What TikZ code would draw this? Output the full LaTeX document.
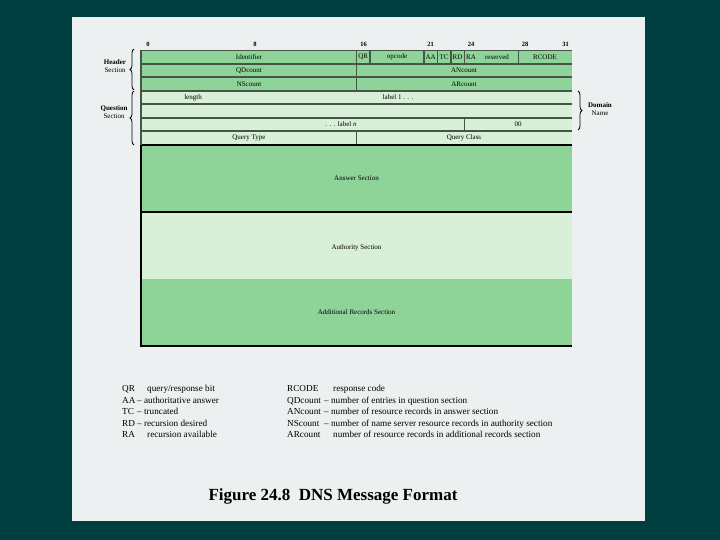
\documentclass[tikz,border=0pt]{standalone}
\usepackage{fontspec}
\setmainfont{Liberation Serif}
\usetikzlibrary{decorations.pathreplacing}
\definecolor{teal0}{RGB}{0,63,63}
\definecolor{panel}{RGB}{237,240,240}
\definecolor{gdark}{RGB}{142,212,152}
\definecolor{glight}{RGB}{216,239,216}
\definecolor{sepc}{RGB}{70,85,72}
\tikzset{
  cell/.style={font=\fontsize{7}{8}\selectfont, inner sep=0pt, anchor=center},
  bitno/.style={font=\bfseries\fontsize{6.5}{7}\selectfont, inner sep=0pt},
  sep/.style={draw=sepc, line width=1.4pt},
  bord/.style={draw=black, line width=1.2pt},
  secl/.style={font=\fontsize{7}{8}\selectfont, inner sep=0pt, align=center},
  leg/.style={font=\fontsize{9.2}{10}\selectfont, inner sep=0pt, anchor=base west},
  bracestyle/.style={decorate, decoration={brace, amplitude=4pt}, line width=0.8pt},
}
\begin{document}
\begin{tikzpicture}[x=1pt,y=-1pt]
\useasboundingbox (0,0) rectangle (720,540);
\fill[teal0] (0,0) rectangle (720,540);
\fill[panel] (72,17) rectangle (645,521);
% row fills
\fill[gdark] (141,50) rectangle (572,91);
\fill[glight] (141,91) rectangle (572,145);
\fill[gdark] (141,145) rectangle (572,212);
\fill[glight] (141,212) rectangle (572,279);
\fill[gdark] (141,279) rectangle (572,346);
% separators
\draw[draw=sepc, line width=0.8pt] (141,50) -- (572,50);
\foreach \yy in {64,77,91,104,118,131} \draw[sep] (141,\yy) -- (572,\yy);
\foreach \xx in {356.5,370,424,437.4,450.8,464.3,518.2} \draw[sep] (\xx,50) -- (\xx,64);
\draw[sep] (356.5,64) -- (356.5,91);
\draw[sep] (464.3,118) -- (464.3,131);
\draw[sep] (356.5,131) -- (356.5,145);
\draw[bord] (572,145) -- (141,145) -- (141,346) -- (572,346);
\draw[bord] (141,212) -- (572,212);
\draw[sep] (141,50) -- (141,145);
% bit numbers
\node[bitno] (b0) at (148,44) {0};
\node[bitno] (b8) at (255,44) {8};
\node[bitno] (b16) at (363.5,44) {16};
\node[bitno] (b21) at (430.6,44) {21};
\node[bitno] (b24) at (471,44) {24};
\node[bitno] (b28) at (525,44) {28};
\node[bitno] (b31) at (565.5,44) {31};
% row 1
\node[cell] (id) at (249,57) {Identifier};
\node[cell] (qr) at (363.3,57) {QR};
\node[cell] (opc) at (397,57) {opcode};
\node[cell] (aa) at (430.7,57) {AA};
\node[cell] (tc) at (444.1,57) {TC};
\node[cell] (rd) at (457.5,57) {RD};
\node[cell] (ra) at (471,57) {RA};
\node[cell] (res) at (497,57) {reserved};
\node[cell] (rc) at (545,57) {RCODE};
% rows 2-3
\node[cell] (qd) at (249,70.5) {QDcount};
\node[cell] (an) at (464,70.5) {ANcount};
\node[cell] (ns) at (249,84) {NScount};
\node[cell] (ar) at (464,84) {ARcount};
% question rows
\node[cell] (len) at (193,97.5) {length};
\node[cell] (lab1) at (398,97.5) {label 1 . . .};
\node[cell] (labn) at (341,124.5) {. . . label \textit{n}};
\node[cell] (zz) at (518,124.5) {00};
\node[cell] (qt) at (249,138) {Query Type};
\node[cell] (qc) at (464,138) {Query Class};
% sections
\node[cell] (ans) at (356.5,178.5) {Answer Section};
\node[cell] (aut) at (356.5,248) {Authority Section};
\node[cell] (add) at (356.5,312) {Additional Records Section};
% braces
\draw[bracestyle] (134,90) -- (134,49);
\draw[bracestyle] (134,145) -- (134,91);
\draw[bracestyle] (578,91) -- (578,130);
\node[secl] (hdr) at (115,66.5) {\textbf{Header}\\Section};
\node[secl] (qsec) at (114,112.5) {\textbf{Question}\\Section};
\node[secl] (dom) at (600,109) {\textbf{Domain}\\Name};
% legend left
\node[leg] (l1a) at (122,391.5) {QR};
\node[leg] (l1b) at (147,391.5) {query/response bit};
\node[leg] (l2a) at (122,403) {AA};
\node[leg] (l2b) at (137,403) {-- authoritative answer};
\node[leg] (l3a) at (122,414.5) {TC};
\node[leg] (l3b) at (137,414.5) {-- truncated};
\node[leg] (l4a) at (122,426) {RD};
\node[leg] (l4b) at (137,426) {-- recursion desired};
\node[leg] (l5a) at (122,437.5) {RA};
\node[leg] (l5b) at (147,437.5) {recursion available};
% legend right
\node[leg] (r1a) at (287,391.5) {RCODE};
\node[leg] (r1b) at (333,391.5) {response code};
\node[leg] (r2a) at (287,403) {QDcount};
\node[leg] (r2b) at (324,403) {-- number of entries in question section};
\node[leg] (r3a) at (287,414.5) {ANcount};
\node[leg] (r3b) at (324,414.5) {-- number of resource records in answer section};
\node[leg] (r4a) at (287,426) {NScount};
\node[leg] (r4b) at (324,426) {-- number of name server resource records in authority section};
\node[leg] (r5a) at (287,437.5) {ARcount};
\node[leg] (r5b) at (333,437.5) {number of resource records in additional records section};
% caption
\node[font=\bfseries\fontsize{17}{19}\selectfont, inner sep=0pt] (cap) at (333,496) {Figure 24.8\enspace DNS Message Format};
\end{tikzpicture}
\end{document}
